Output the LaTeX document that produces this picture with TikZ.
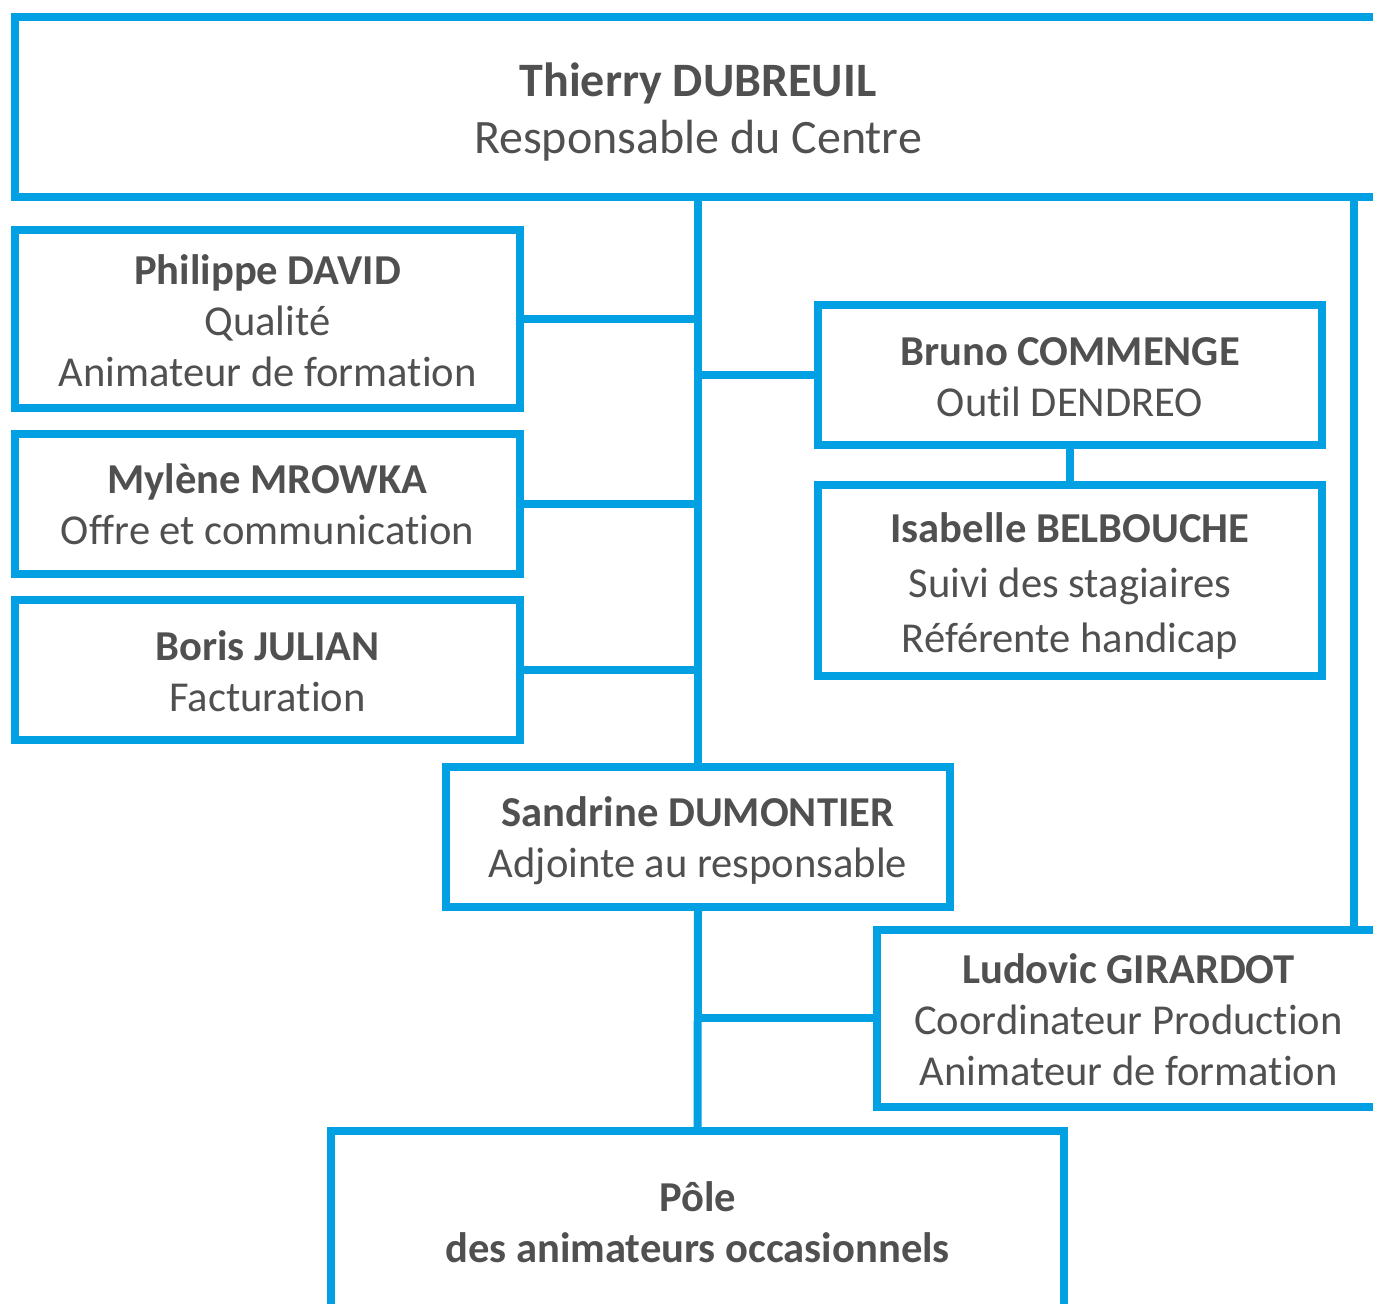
\documentclass[tikz,border=0pt]{standalone}
\usepackage{fontspec}
\setmainfont{Carlito}[Ligatures=NoCommon]
\definecolor{orgblue}{RGB}{0, 160, 227}
\definecolor{textgray}{RGB}{80, 80, 80}
\usetikzlibrary{positioning, calc}
% text block of a box, lowered a little without moving the box
\newcommand{\fiche}[2][3pt]{\raisebox{-#1}[\height][\depth]{\begin{tabular}{@{}c@{}}#2\end{tabular}}}

\begin{document}
\begin{tikzpicture}[x=0.5pt, y=-0.5pt,
  poste/.style={draw=orgblue, line width=4pt, inner sep=0pt, align=center, text=textgray, font=\fontsize{21.3}{25.5}\selectfont},
  lien/.style={draw=orgblue, line width=4pt}]
  \useasboundingbox (0,0) rectangle (1373,1304);
  \clip (0,0) rectangle (1373,1304);

  % Direction
  \node[poste, minimum width=683pt, minimum height=90pt, font=\fontsize{24}{28.5}\selectfont] (dir) at (698,107) {\fiche[3.5pt]{\textbf{Thierry DUBREUIL}\\Responsable du Centre}};

  % Left column
  \node[poste, minimum width=252.5pt, minimum height=89pt] (philippe) at (267.5,319) {\fiche{\textbf{Philippe DAVID}\\Qualité\\Animateur de formation}};
  \node[poste, minimum width=252.5pt, minimum height=70pt] (mylene) at (267.5,504) {\fiche[2.5pt]{\textbf{Mylène MROWKA}\\Offre et communication}};
  \node[poste, minimum width=252.5pt, minimum height=70pt] (boris) at (267.5,670) {\fiche{\textbf{Boris JULIAN}\\Facturation}};

  % Right column
  \node[poste, minimum width=252pt, minimum height=70pt] (bruno) at (1070,375) {\fiche{\textbf{Bruno COMMENGE}\\Outil DENDREO}};
  \node[poste, minimum width=252pt, minimum height=95.5pt, font=\fontsize{21.3}{27.5}\selectfont] (isabelle) at (1070,580.5) {\fiche{\textbf{Isabelle BELBOUCHE}\\Suivi des stagiaires\\Référente handicap}};

  % Adjointe and below
  \node[poste, minimum width=252pt, minimum height=70pt] (sandrine) at (698,837) {\fiche[2.5pt]{\textbf{Sandrine DUMONTIER}\\Adjointe au responsable}};
  \node[poste, minimum width=251.5pt, minimum height=88.5pt] (ludovic) at (1128.5,1018.5) {\fiche{\textbf{Ludovic GIRARDOT}\\Coordinateur Production\\Animateur de formation}};
  \node[poste, minimum width=366.5pt, minimum height=91pt] (pole) at (697.5,1222) {\fiche[2.5pt]{\textbf{Pôle}\\\textbf{des animateurs occasionnels}}};

  % Links
  \coordinate (droite) at (1354,0);
  \draw[lien] (dir.south) -- (sandrine.north);
  \draw[lien] (philippe.east) -- (philippe.east -| dir.south);
  \draw[lien] (mylene.east) -- (mylene.east -| dir.south);
  \draw[lien] (boris.east) -- (boris.east -| dir.south);
  \draw[lien] (bruno.west) -- (bruno.west -| dir.south);
  \draw[lien] (bruno.south) -- (isabelle.north);
  \draw[lien] (dir.south -| droite) -- (ludovic.north -| droite);
  \draw[lien] (sandrine.south) -- (pole.north);
  \draw[lien] (ludovic.west) -- (ludovic.west -| sandrine.south);
\end{tikzpicture}
\end{document}
